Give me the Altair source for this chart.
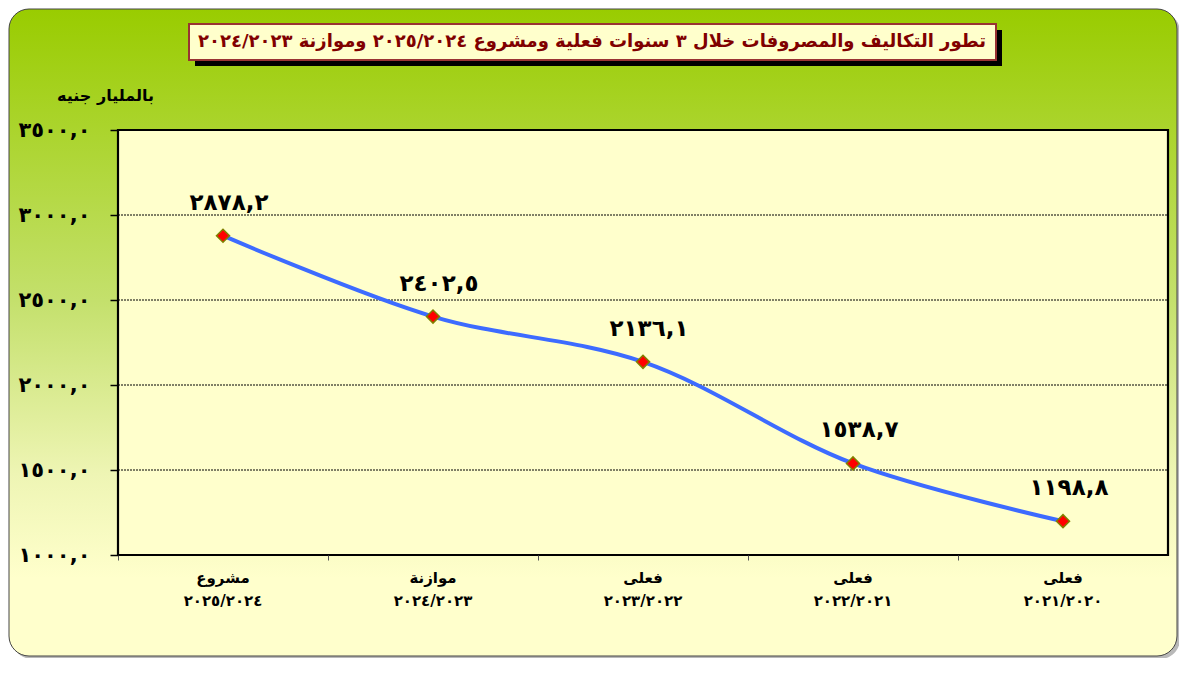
import json
import altair as alt
import pandas as pd

# ---------------- data ----------------
periods = ["٢٠٢٥/٢٠٢٤", "٢٠٢٤/٢٠٢٣", "٢٠٢٣/٢٠٢٢", "٢٠٢٢/٢٠٢١", "٢٠٢١/٢٠٢٠"]
kinds = ["مشروع", "موازنة", "فعلى", "فعلى", "فعلى"]
values = [2878.2, 2402.5, 2136.1, 1538.7, 1198.8]
value_labels = ["٢٨٧٨,٢", "٢٤٠٢,٥", "٢١٣٦,١", "١٥٣٨,٧", "١١٩٨,٨"]

ytick_values = [1000, 1500, 2000, 2500, 3000, 3500]
ytick_labels = ["١٠٠٠,٠", "١٥٠٠,٠", "٢٠٠٠,٠", "٢٥٠٠,٠", "٣٠٠٠,٠", "٣٥٠٠,٠"]
grid_values = [1500, 2000, 2500, 3000]

title_text = "تطور التكاليف والمصروفات خلال ٣ سنوات فعلية ومشروع ٢٠٢٥/٢٠٢٤ وموازنة ٢٠٢٤/٢٠٢٣"
y_title = "بالمليار جنيه"

FONT = "DejaVu Sans"
W, H = 1050, 425

df = pd.DataFrame({"period": periods, "kind": kinds, "value": values, "label": value_labels})
grid_df = pd.DataFrame({"g": grid_values})
one = pd.DataFrame({"d": [0]})

label_expr = (
    json.dumps(ytick_labels, ensure_ascii=False)
    + "[indexof(" + json.dumps(ytick_values) + ", datum.value)]"
)

xaxis = alt.Axis(labels=False, ticks=True, tickSize=5, tickColor="#555555", bandPosition=0,
                 domain=False, grid=False, title=None, zindex=2)
yaxis = alt.Axis(values=ytick_values, labelExpr=label_expr, tickSize=8, tickColor="black",
                 tickWidth=1.5, labelFont=FONT, labelFontSize=21, labelFontWeight="bold",
                 labelColor="black", labelPadding=20, domain=False, grid=False,
                 title=y_title, titleAngle=0, titleX=-13, titleY=-35, titleAlign="center",
                 titleBaseline="middle", titleFont=FONT, titleFontSize=16,
                 titleFontWeight="bold", titleColor="black", zindex=2)

xscale = alt.Scale(type="band", paddingInner=0, paddingOuter=0, domain=periods)
yscale = alt.Scale(domain=[1000, 3500], nice=False, zero=False)

xenc = alt.X("period:N", sort=periods, scale=xscale, axis=xaxis)
yenc = alt.Y("value:Q", scale=yscale, axis=yaxis)

# ---------------- background frame ----------------
frame_shadow = alt.Chart(one).mark_rect(cornerRadius=20, color="#8a8a8a", opacity=0.6).encode(
    x=alt.value(-106), x2=alt.value(1062), y=alt.value(-118), y2=alt.value(529)
)
frame = alt.Chart(one).mark_rect(
    cornerRadius=20,
    stroke="#444444",
    strokeWidth=1,
    fill=alt.Gradient(
        gradient="linear",
        stops=[
            alt.GradientStop(color="#99CC00", offset=0),
            alt.GradientStop(color="#C4E06C", offset=0.45),
            alt.GradientStop(color="#EEF5B4", offset=0.72),
            alt.GradientStop(color="#FFFFCC", offset=0.88),
            alt.GradientStop(color="#FFFFCC", offset=1),
        ],
        x1=0, x2=0, y1=0, y2=1,
    ),
).encode(x=alt.value(-109), x2=alt.value(1059), y=alt.value(-121), y2=alt.value(526))

plot_bg = alt.Chart(one).mark_rect(fill="#FFFFCC", stroke="black", strokeWidth=2.2).encode(
    x=alt.value(0), x2=alt.value(W), y=alt.value(0), y2=alt.value(H)
)

grid = alt.Chart(grid_df).mark_rule(color="black", strokeWidth=1, strokeDash=[2, 1]).encode(
    y=alt.Y("g:Q", scale=yscale, axis=yaxis), x=alt.value(0), x2=alt.value(W)
)

line = alt.Chart(df).mark_line(color="#3D6BFF", strokeWidth=4, interpolate="catmull-rom").encode(
    x=xenc, y=yenc
)
points = alt.Chart(df).mark_point(
    shape="diamond", filled=True, fill="#FF0000", stroke="#808000", strokeWidth=1.5,
    size=170, opacity=1
).encode(x=xenc, y=yenc)

labels = alt.Chart(df).mark_text(
    font=FONT, fontSize=23, fontWeight="bold", color="black", dx=6, dy=-33,
    align="center", baseline="middle"
).encode(x=xenc, y=yenc, text="label:N")

xlab1 = alt.Chart(df).mark_text(
    font=FONT, fontSize=15, fontWeight="bold", color="black", align="center", baseline="middle"
).encode(x=xenc, y=alt.value(448), text="kind:N")
xlab2 = alt.Chart(df).mark_text(
    font=FONT, fontSize=15, fontWeight="bold", color="black", align="center", baseline="middle"
).encode(x=xenc, y=alt.value(471), text="period:N")

# ---------------- title box ----------------
title_shadow = alt.Chart(one).mark_rect(color="black").encode(
    x=alt.value(77), x2=alt.value(884), y=alt.value(-100), y2=alt.value(-64)
)
title_box = alt.Chart(one).mark_rect(fill="#FFFFCC", stroke="#993333", strokeWidth=2).encode(
    x=alt.value(71), x2=alt.value(878), y=alt.value(-106), y2=alt.value(-70)
)
title = alt.Chart(one).mark_text(
    text=title_text, font=FONT, fontSize=18, fontWeight="bold", color="#800000",
    align="center", baseline="middle"
).encode(x=alt.value(474), y=alt.value(-88))

chart = alt.layer(
    frame_shadow, frame, plot_bg, grid, line, points, labels, xlab1, xlab2,
    title_shadow, title_box, title
).properties(
    width=W, height=H,
    autosize=alt.AutoSizeParams(type="none"),
    padding={"left": 110, "top": 122, "right": 11, "bottom": 103},
    background="white",
).configure_view(stroke=None, fill=None)

chart.save("out.html", embed_options={"renderer": "svg", "actions": False})
